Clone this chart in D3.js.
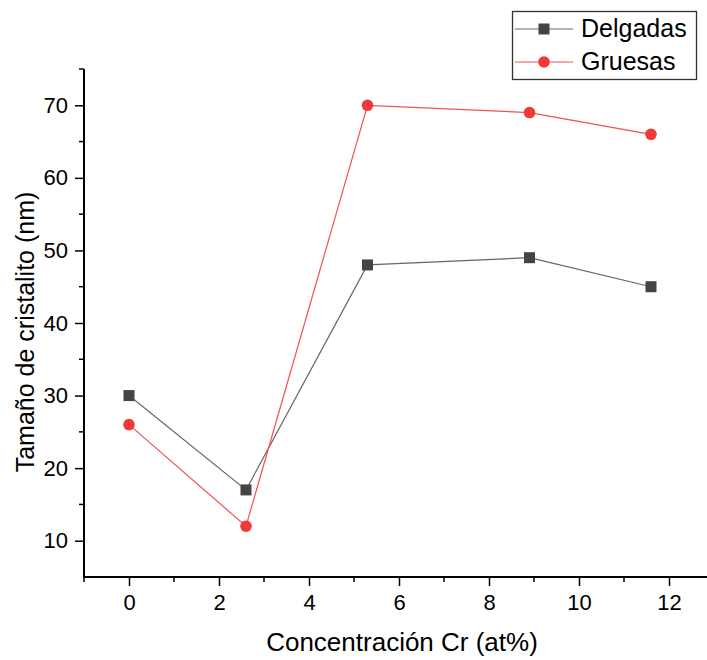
<!DOCTYPE html>
<html>
<head>
<meta charset="utf-8">
<script src="https://cdn.jsdelivr.net/npm/d3@7"></script>
<style>
  body { margin: 0; background: #fff; }
  svg { font-family: "Liberation Sans", Arial, sans-serif; }
</style>
</head>
<body>
<script>
var concentracion = [0, 2.6, 5.3, 8.9, 11.6];
var delgadas = [30, 17, 48, 49, 45];
var gruesas = [26, 12, 70, 69, 66];
var xTicks = [0, 2, 4, 6, 8, 10, 12];
var yTicks = [10, 20, 30, 40, 50, 60, 70];

var width = 707, height = 660;

var svg = d3.select("body").append("svg")
            .attr("width", width)
            .attr("height", height);

var x = d3.scaleLinear().domain([-1, 12]).range([84, 669]);
var y = d3.scaleLinear().domain([5, 75]).range([577, 69]);

// minor ticks
var xMinor = d3.range(-1, 14, 1).filter(function(d) { return d % 2 !== 0; });
var yMinor = d3.range(15, 80, 10);

svg.append("g")
   .selectAll("line")
   .data(xMinor)
   .enter()
   .append("line")
   .attr("x1", function(d) { return x(d); })
   .attr("x2", function(d) { return x(d); })
   .attr("y1", 577)
   .attr("y2", 582)
   .attr("stroke", "#000")
   .attr("stroke-width", 1.5);

svg.append("g")
   .selectAll("line")
   .data(yMinor)
   .enter()
   .append("line")
   .attr("x1", 79)
   .attr("x2", 84)
   .attr("y1", function(d) { return y(d); })
   .attr("y2", function(d) { return y(d); })
   .attr("stroke", "#000")
   .attr("stroke-width", 1.5);

// x axis
var xAxis = svg.append("g")
   .attr("transform", "translate(0,577)")
   .attr("font-size", 22)
   .call(d3.axisBottom(x).tickValues(xTicks).tickSize(9).tickPadding(8).tickSizeOuter(0));
xAxis.attr("font-size", 22).attr("font-family", "Liberation Sans, Arial, sans-serif");
xAxis.select(".domain").remove();
xAxis.append("line")
     .attr("x1", 84).attr("x2", 707)
     .attr("stroke", "#000").attr("stroke-width", 2);
xAxis.selectAll(".tick line").attr("stroke-width", 1.5);
xAxis.selectAll("text").attr("fill", "#000");

// y axis
var yAxis = svg.append("g")
   .attr("transform", "translate(84,0)")
   .call(d3.axisLeft(y).tickValues(yTicks).tickSize(9).tickPadding(7).tickSizeOuter(0));
yAxis.attr("font-size", 22).attr("font-family", "Liberation Sans, Arial, sans-serif");
yAxis.select(".domain").remove();
yAxis.append("line")
     .attr("y1", 69).attr("y2", 578)
     .attr("stroke", "#000").attr("stroke-width", 2);
yAxis.selectAll(".tick line").attr("stroke-width", 1.5);
yAxis.selectAll("text").attr("fill", "#000");

// axis titles
svg.append("text")
   .attr("x", 402)
   .attr("y", 651)
   .attr("text-anchor", "middle")
   .attr("font-size", 26)
   .text("Concentración Cr (at%)");

svg.append("text")
   .attr("transform", "translate(34,332) rotate(-90)")
   .attr("text-anchor", "middle")
   .attr("font-size", 25)
   .text("Tamaño de cristalito (nm)");

// series
var series = [
  { name: "Delgadas", values: delgadas, line: "#666", fill: "#444", shape: "square" },
  { name: "Gruesas", values: gruesas, line: "#f35050", fill: "#ee3a3a", shape: "circle" }
];

var line = d3.line()
             .x(function(d) { return x(d[0]); })
             .y(function(d) { return y(d[1]); });

series.forEach(function(s) {
  var pts = concentracion.map(function(c, i) { return [c, s.values[i]]; });
  svg.append("path")
     .datum(pts)
     .attr("d", line)
     .attr("fill", "none")
     .attr("stroke", s.line)
     .attr("stroke-width", 1.2);
  if (s.shape === "square") {
    svg.selectAll(null)
       .data(pts)
       .enter()
       .append("rect")
       .attr("x", function(d) { return x(d[0]) - 5.5; })
       .attr("y", function(d) { return y(d[1]) - 5.5; })
       .attr("width", 11)
       .attr("height", 11)
       .attr("fill", s.fill);
  } else {
    svg.selectAll(null)
       .data(pts)
       .enter()
       .append("circle")
       .attr("cx", function(d) { return x(d[0]); })
       .attr("cy", function(d) { return y(d[1]); })
       .attr("r", 5.8)
       .attr("fill", s.fill);
  }
});

// legend
var legend = svg.append("g");
legend.append("rect")
      .attr("x", 512.5).attr("y", 11.5)
      .attr("width", 184).attr("height", 68)
      .attr("fill", "#fff")
      .attr("stroke", "#333")
      .attr("stroke-width", 1.3);

series.forEach(function(s, i) {
  var cy = 29 + i * 33;
  legend.append("line")
        .attr("x1", 515).attr("x2", 573)
        .attr("y1", cy).attr("y2", cy)
        .attr("stroke", s.line).attr("stroke-width", 1.2);
  if (s.shape === "square") {
    legend.append("rect")
          .attr("x", 544 - 5.5).attr("y", cy - 5.5)
          .attr("width", 11).attr("height", 11)
          .attr("fill", s.fill);
  } else {
    legend.append("circle")
          .attr("cx", 544).attr("cy", cy)
          .attr("r", 5.8).attr("fill", s.fill);
  }
  legend.append("text")
        .attr("x", 581)
        .attr("y", cy + 8)
        .attr("font-size", 25)
        .text(s.name);
});
</script>
</body>
</html>
